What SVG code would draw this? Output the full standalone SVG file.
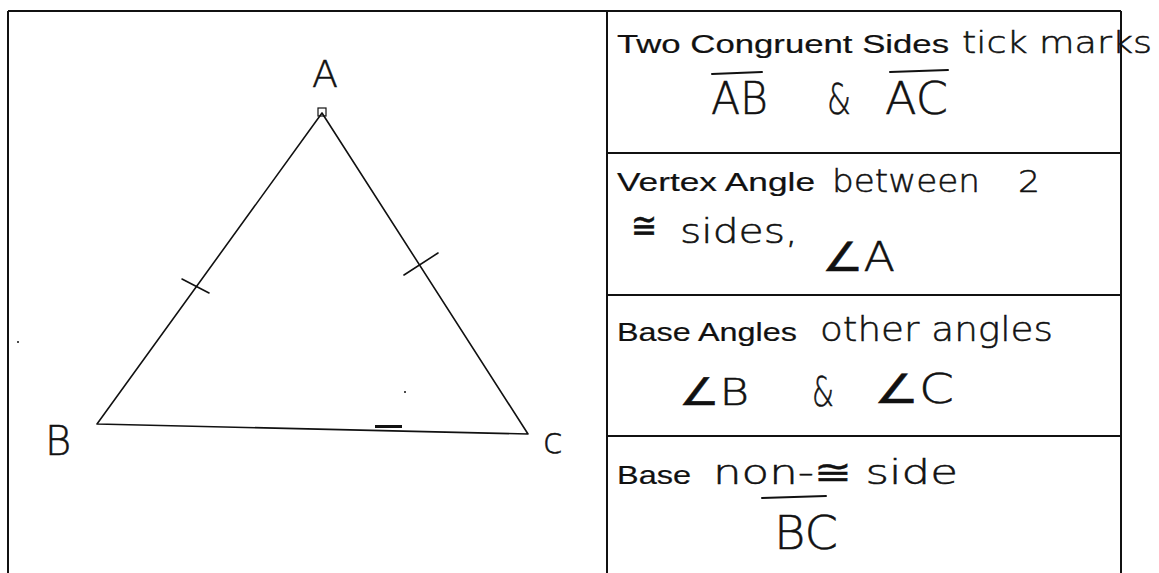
<svg xmlns="http://www.w3.org/2000/svg" width="1159" height="573" viewBox="0 0 1159 573">
<style>
.grid{stroke:#111;stroke-width:2;fill:none}
.tri{stroke:#111;stroke-width:1.6;fill:none;stroke-linecap:round}
.pr{font-family:"Liberation Sans",Arial,sans-serif;font-size:26px;fill:#111;stroke:#111;stroke-width:0.2}
.hw{font-family:"DejaVu Sans","Liberation Sans",sans-serif;font-weight:200;fill:#111;stroke:#111;stroke-width:0.5}
.ov{stroke:#111;stroke-width:2;fill:none;stroke-linecap:round}
</style>
<rect width="1159" height="573" fill="#fff"/>
<g id="table">
<line class="grid" x1="8" y1="11" x2="1121" y2="11"/>
<line class="grid" x1="8" y1="11" x2="8" y2="573"/>
<line class="grid" x1="607" y1="11" x2="607" y2="573"/>
<line class="grid" x1="1121" y1="11" x2="1121" y2="573"/>
<line class="grid" x1="607" y1="153" x2="1121" y2="153"/>
<line class="grid" x1="607" y1="295" x2="1121" y2="295"/>
<line class="grid" x1="607" y1="436" x2="1121" y2="436"/>
</g>
<g id="triangle">
<path class="tri" d="M322,113 L97,424 M322,113 L528,434 M97,424 L528,434"/>
<path class="tri" d="M182,279 L209,293 M404,275 L438,253"/>
<rect x="318" y="108" width="8" height="8" fill="none" stroke="#111" stroke-width="1.2"/>
<path d="M375,425 L402,425 L402,428 L375,428 Z" fill="#111"/>
<circle cx="18" cy="342" r="1" fill="#111"/>
<circle cx="405" cy="392" r="1" fill="#111"/>
<text class="hw" x="325" y="87" font-size="38" text-anchor="middle">A</text>
<text class="hw" x="58" y="455" font-size="40" text-anchor="middle">B</text>
<text class="hw" x="553" y="453" font-size="36" text-anchor="middle">c</text>
</g>
<g id="row-sides">
<text class="pr" x="617" y="53" textLength="332" lengthAdjust="spacingAndGlyphs">Two Congruent Sides</text>
<text class="hw" x="962" y="53" font-size="30" textLength="190" lengthAdjust="spacingAndGlyphs">tick marks</text>
<line class="ov" x1="712" y1="74" x2="762" y2="72"/>
<text class="hw" x="711" y="114" font-size="44" textLength="57" lengthAdjust="spacingAndGlyphs">AB</text>
<text class="hw" x="827" y="114" font-size="42" textLength="24" lengthAdjust="spacingAndGlyphs">&amp;</text>
<line class="ov" x1="890" y1="72" x2="948" y2="70"/>
<text class="hw" x="885" y="114" font-size="44" textLength="63" lengthAdjust="spacingAndGlyphs">AC</text>
</g>
<g id="row-vertex">
<text class="pr" x="617" y="191" textLength="198" lengthAdjust="spacingAndGlyphs">Vertex Angle</text>
<text class="hw" x="832" y="192" font-size="32" textLength="148" lengthAdjust="spacingAndGlyphs">between</text>
<text class="hw" x="1018" y="192" font-size="30" textLength="22" lengthAdjust="spacingAndGlyphs">2</text>
<text class="hw" x="631" y="238" font-size="36" textLength="26" lengthAdjust="spacingAndGlyphs">≅</text>
<text class="hw" x="680" y="243" font-size="34" textLength="118" lengthAdjust="spacingAndGlyphs">sides,</text>
<text class="hw" x="822" y="271" font-size="40" textLength="73" lengthAdjust="spacingAndGlyphs">∠A</text>
</g>
<g id="row-base-angles">
<text class="pr" x="617" y="341" textLength="180" lengthAdjust="spacingAndGlyphs">Base Angles</text>
<text class="hw" x="820" y="341" font-size="34" textLength="233" lengthAdjust="spacingAndGlyphs">other angles</text>
<text class="hw" x="679" y="405" font-size="38" textLength="70" lengthAdjust="spacingAndGlyphs">∠B</text>
<text class="hw" x="812" y="406" font-size="40" textLength="22" lengthAdjust="spacingAndGlyphs">&amp;</text>
<text class="hw" x="874" y="403" font-size="40" textLength="80" lengthAdjust="spacingAndGlyphs">∠C</text>
</g>
<g id="row-base">
<text class="pr" x="617" y="484" textLength="74" lengthAdjust="spacingAndGlyphs">Base</text>
<text class="hw" x="713" y="484" font-size="34" textLength="245" lengthAdjust="spacingAndGlyphs">non-≅ side</text>
<line class="ov" x1="762" y1="498" x2="826" y2="496"/>
<text class="hw" x="774" y="549" font-size="46" textLength="64" lengthAdjust="spacingAndGlyphs">BC</text>
</g>
</svg>
